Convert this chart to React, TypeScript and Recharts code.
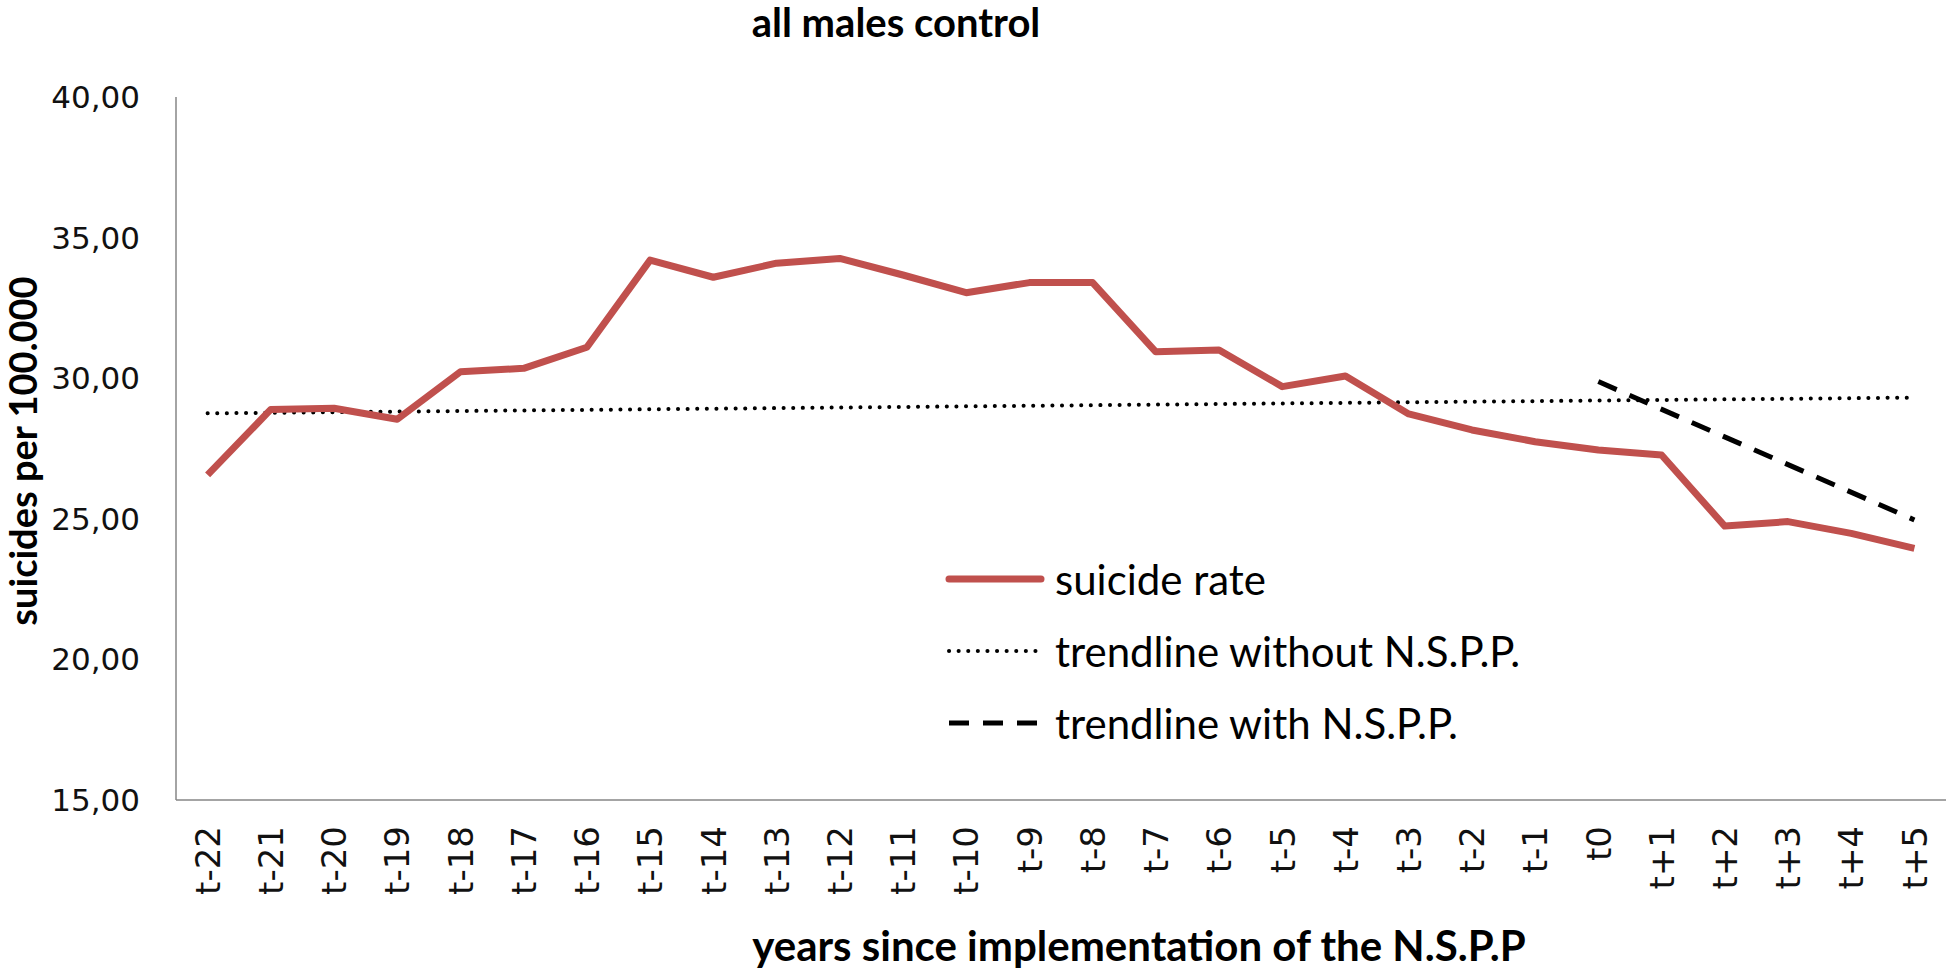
import React from 'react';
import { LineChart, Line, XAxis, YAxis, Legend } from 'recharts';

const categories = [
  't-22', 't-21', 't-20', 't-19', 't-18', 't-17', 't-16', 't-15', 't-14', 't-13',
  't-12', 't-11', 't-10', 't-9', 't-8', 't-7', 't-6', 't-5', 't-4', 't-3',
  't-2', 't-1', 't0', 't+1', 't+2', 't+3', 't+4', 't+5',
];

const suicideRate = [
  26.56, 28.89, 28.93, 28.54, 30.23, 30.35, 31.1, 34.2, 33.59, 34.09,
  34.26, 33.67, 33.04, 33.4, 33.4, 30.94, 31.0, 29.7, 30.08, 28.73,
  28.16, 27.74, 27.45, 27.27, 24.74, 24.9, 24.48, 23.95,
];

const trendWithout = [
  28.75, null, null, null, null, null, null, null, null, null,
  null, null, null, null, null, null, null, null, null, null,
  null, null, null, null, null, null, null, 29.31,
];

const trendWith = [
  null, null, null, null, null, null, null, null, null, null,
  null, null, null, null, null, null, null, null, null, null,
  null, null, 29.88, null, null, null, null, 24.96,
];

const yTicks = [15, 20, 25, 30, 35, 40];
const yTickLabels = ['15,00', '20,00', '25,00', '30,00', '35,00', '40,00'];

const seriesNames = ['suicide rate', 'trendline without N.S.P.P.', 'trendline with N.S.P.P.'];

const chartTitle = 'all males control';
const xTitle = 'years since implementation of the N.S.P.P';
const yTitle = 'suicides per 100.000';

const data = categories.map((cat, i) => ({
  cat,
  rate: suicideRate[i],
  without: trendWithout[i],
  withN: trendWith[i],
}));

const RED = '#C0504D';
const CAL = 'Lato, "Open Sans", sans-serif';

const XTick = (props: any) => {
  const { x, y, payload } = props;
  return (
    <g transform={`translate(${x},${y})`}>
      <text
        transform="rotate(-90)"
        textAnchor="end"
        dy="0.36em"
        fontFamily="DejaVu Sans"
        fontSize={34}
        fill="#111"
      >
        {payload.value}
      </text>
    </g>
  );
};

const legendStyles = [
  { stroke: RED, strokeWidth: 7, dash: undefined as string | undefined, cap: 'round' },
  { stroke: '#000', strokeWidth: 4, dash: '0.1 9.5', cap: 'round' },
  { stroke: '#000', strokeWidth: 5, dash: '20 14', cap: 'butt' },
];

const renderLegend = () => (
  <div style={{ display: 'flex', flexDirection: 'column' }}>
    {seriesNames.map((name, i) => (
      <div key={name} style={{ display: 'flex', alignItems: 'center', height: 72 }}>
        <svg width={100} height={20} style={{ marginRight: 10 }}>
          <line
            x1={4}
            y1={10}
            x2={96}
            y2={10}
            stroke={legendStyles[i].stroke}
            strokeWidth={legendStyles[i].strokeWidth}
            strokeDasharray={legendStyles[i].dash}
            strokeLinecap={legendStyles[i].cap as any}
          />
        </svg>
        <span style={{ fontFamily: CAL, fontSize: 42, color: '#000', whiteSpace: 'nowrap' }}>{name}</span>
      </div>
    ))}
  </div>
);

export default function App() {
  return (
    <div style={{ position: 'absolute', left: 0, top: 0, width: 1946, height: 969, background: '#fff' }}>
      <LineChart width={1946} height={969} data={data} margin={{ top: 97, right: 0, bottom: 0, left: 0 }}>
        <XAxis
          dataKey="cat"
          interval={0}
          height={169}
          padding={{ left: 31.6, right: 31.6 }}
          axisLine={{ stroke: '#868686', strokeWidth: 1.5 }}
          tickLine={false}
          tickSize={0}
          tickMargin={26}
          tick={<XTick />}
        />
        <YAxis
          type="number"
          domain={[15, 40]}
          ticks={yTicks}
          width={176}
          axisLine={{ stroke: '#868686', strokeWidth: 1.5 }}
          tickLine={false}
          tickSize={0}
          tickMargin={36}
          tick={{ fontFamily: 'DejaVu Sans', fontSize: 31, fill: '#111' }}
          tickFormatter={(v: number) => yTickLabels[yTicks.indexOf(v)]}
        />
        <Legend
          layout="horizontal"
          verticalAlign="middle"
          align="center"
          content={renderLegend}
          wrapperStyle={{ position: 'absolute', left: 945, top: 543, width: 'auto' }}
        />
        <Line
          dataKey="without"
          stroke="#000"
          strokeWidth={4}
          strokeDasharray="0.1 9.5"
          strokeLinecap="round"
          dot={false}
          connectNulls
          isAnimationActive={false}
        />
        <Line
          dataKey="withN"
          stroke="#000"
          strokeWidth={5}
          strokeDasharray="20 14"
          dot={false}
          connectNulls
          isAnimationActive={false}
        />
        <Line
          dataKey="rate"
          stroke={RED}
          strokeWidth={7}
          dot={false}
          strokeLinejoin="round"
          isAnimationActive={false}
        />
      </LineChart>
      <div
        style={{
          position: 'absolute', left: 896, top: 22, transform: 'translate(-50%, -50%)',
          fontFamily: CAL, fontWeight: 700, fontSize: 40, lineHeight: 1, whiteSpace: 'nowrap', color: '#000',
        }}
      >
        {chartTitle}
      </div>
      <div
        style={{
          position: 'absolute', left: 1139, top: 945, transform: 'translate(-50%, -50%)',
          fontFamily: CAL, fontWeight: 700, fontSize: 42, lineHeight: 1, whiteSpace: 'nowrap', color: '#000',
        }}
      >
        {xTitle}
      </div>
      <div
        style={{
          position: 'absolute', left: 22, top: 451, transform: 'translate(-50%, -50%) rotate(-90deg)',
          fontFamily: CAL, fontWeight: 700, fontSize: 38, lineHeight: 1, whiteSpace: 'nowrap', color: '#000',
        }}
      >
        {yTitle}
      </div>
    </div>
  );
}
